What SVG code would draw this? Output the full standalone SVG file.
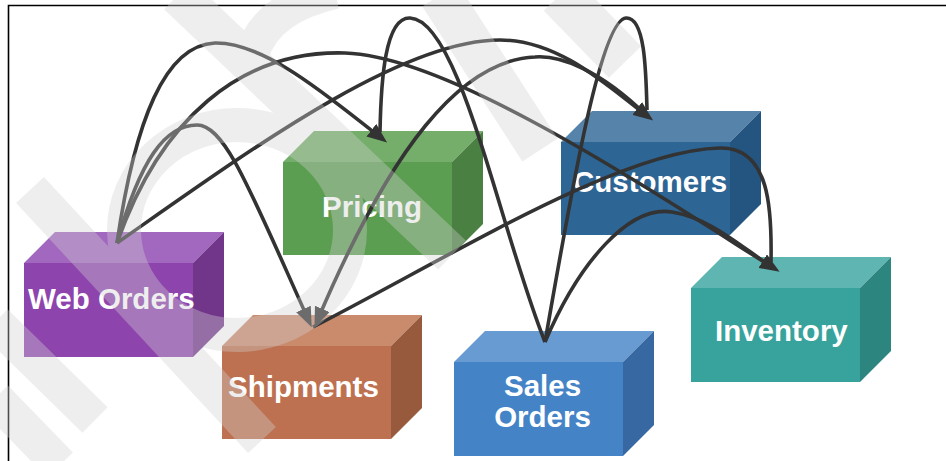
<svg xmlns="http://www.w3.org/2000/svg" width="946" height="461" viewBox="0 0 946 461">
<style>
.lbl{font-family:"Liberation Sans",Arial,sans-serif;font-weight:bold;font-size:29.5px;fill:#ffffff}
.cn{fill:none;stroke:#333333;stroke-width:3.6}
.wm{fill:none;stroke:#d2d2d2}
</style>
<defs>
<marker id="ah" markerUnits="userSpaceOnUse" markerWidth="20" markerHeight="16" viewBox="0 0 20 16" refX="11" refY="8" orient="auto">
<path d="M0,0 L20,8 L0,16 z" fill="#333333"/>
</marker>
</defs>
<rect x="0" y="0" width="946" height="461" fill="#ffffff"/>
<path d="M8.5,461 V5.5 H946" fill="none" stroke="#000000" stroke-width="1.6"/>

<g id="pricing">
<polygon points="283,162 314,131 483,131 452,162" fill="#74AE6A"/>
<polygon points="452,162 483,131 483,224 452,255" fill="#4A8041"/>
<rect x="283" y="162" width="169" height="93" fill="#5C9E51"/>
<text class="lbl" x="322" y="217">Pricing</text>
</g>
<g id="customers">
<polygon points="561,142 592,111 761,111 730,142" fill="#5583A9"/>
<polygon points="730,142 761,111 761,204 730,235" fill="#245480"/>
<rect x="561" y="142" width="169" height="93" fill="#2D6594"/>
<text class="lbl" x="573" y="192">Customers</text>
</g>
<g id="web-orders">
<polygon points="24,263 55,232 224,232 193,263" fill="#A267BF"/>
<polygon points="193,263 224,232 224,326 193,357" fill="#71368A"/>
<rect x="24" y="263" width="169" height="94" fill="#8E44AD"/>
<text class="lbl" x="28" y="309">Web Orders</text>
</g>
<g id="inventory">
<polygon points="691,288 722,257 891,257 860,288" fill="#5EB5B1"/>
<polygon points="860,288 891,257 891,351 860,382" fill="#2C857E"/>
<rect x="691" y="288" width="169" height="94" fill="#37A39C"/>
<text class="lbl" x="715" y="341">Inventory</text>
</g>
<g id="shipments">
<polygon points="222,346 253,315 422,315 391,346" fill="#C98B6C"/>
<polygon points="391,346 422,315 422,408 391,439" fill="#985A3D"/>
<rect x="222" y="346" width="169" height="93" fill="#BD7150"/>
<text class="lbl" x="228" y="397">Shipments</text>
</g>
<g id="sales-orders">
<polygon points="454,362 485,331 654,331 623,362" fill="#689BD2"/>
<polygon points="623,362 654,331 654,425 623,456" fill="#3768A2"/>
<rect x="454" y="362" width="169" height="94" fill="#4583C7"/>
<text class="lbl" x="542.5" y="396" text-anchor="middle">Sales</text>
<text class="lbl" x="542.5" y="427" text-anchor="middle">Orders</text>
</g>

<g id="connectors">
<path class="cn" d="M117,243 C135,120 165,45 215,43 C265,42 330,98 380,137" marker-end="url(#ah)"/>
<path class="cn" d="M117,243 C140,160 165,125 197,125 C225,125 250,190 308,319" marker-end="url(#ah)"/>
<path class="cn" d="M117,243 C160,120 240,50 345,53 C450,56 650,190 772,267" marker-end="url(#ah)"/>
<path class="cn" d="M117,243 C250,150 400,40 500,40 C560,40 610,88 646,115" marker-end="url(#ah)"/>
<path class="cn" d="M545,342 C500,230 460,20 410,18 C385,17 381,80 380,132"/>
<path class="cn" d="M545,342 C570,200 600,20 626,18 C645,17 646,70 647,110"/>
<path class="cn" d="M545,342 C580,260 630,205 672,212 C710,218 740,246 772,267"/>
<path class="cn" d="M646,115 C600,70 560,55 535,57 C460,60 390,150 318,319" marker-end="url(#ah)"/>
<path class="cn" d="M313,327 C450,257 620,150 720,148 C770,147 772,210 771,262"/>
</g>

<g id="watermark" opacity="0.36">
<path class="wm" stroke-width="40" d="M178,-5 L452,255"/>
<path class="wm" stroke-width="42" d="M440,-5 L540,150"/>
<path class="wm" stroke-width="45" d="M560,-5 L625,62"/>
<ellipse class="wm" stroke-width="34" cx="237" cy="230" rx="113" ry="105"/>
<path class="wm" stroke-width="38" d="M30,190 L262,440"/>
<path class="wm" stroke-width="36" d="M-5,322 L95,420"/>
<path class="wm" stroke-width="36" d="M-5,398 L60,465"/>
<path class="wm" stroke-width="34" d="M252,55 Q265,8 335,-8"/>
</g>
</svg>
